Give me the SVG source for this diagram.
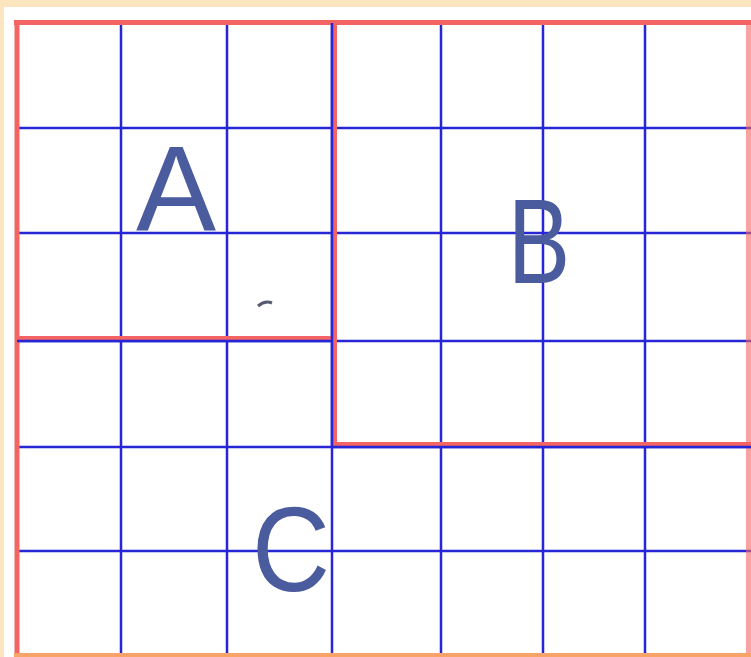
<svg xmlns="http://www.w3.org/2000/svg" width="751" height="657" viewBox="0 0 751 657">
<style>
.grid{stroke:#2626d6;stroke-width:2.5;fill:none}
.red{stroke:#f46464;stroke-width:5;fill:none}
.lbl{font-family:"Liberation Sans","DejaVu Sans",sans-serif;font-size:120px;fill:#4a5b9e;text-anchor:middle}
</style>
<rect x="0" y="0" width="751" height="657" fill="#fbe6bf"/>
<rect x="4" y="7" width="747" height="650" fill="#ffffff"/>
<g id="grid" class="grid">
<path d="M121 23V657M227 23V657M332 23V657M441 23V657M543 23V657M645 23V657"/>
<path d="M17 128H751M17 233H751M17 341H751M17 447H751M17 551H751"/>
</g>
<g id="connectors">
<path class="red" d="M14 22.5H751"/>
<path class="red" d="M17 20V657"/>
<path class="red" d="M748.5 20V657" stroke-width="3" opacity="0.6"/>
<path d="M14 655H751" stroke="#f8a468" stroke-width="4"/>
</g>
<g id="regionA">
<path class="red" d="M17 338.5H332" stroke-width="4"/>
<text class="lbl" x="176" y="230">A</text>
<path d="M258 306 Q265 300 272 303" stroke="#555a70" stroke-width="3" fill="none"/>
</g>
<g id="regionB">
<path class="red" d="M334.5 23V444" stroke-width="4"/>
<path class="red" d="M332 444.5H751" stroke-width="4"/>
<text class="lbl" x="0" y="283" transform="translate(539 0) scale(0.78 1)">B</text>
</g>
<g id="regionC">
<text class="lbl" x="0" y="591" transform="translate(291 0) scale(0.9 1)">C</text>
</g>
<path class="grid" d="M17 341H332M332 23V447M332 447H751"/>
</svg>
